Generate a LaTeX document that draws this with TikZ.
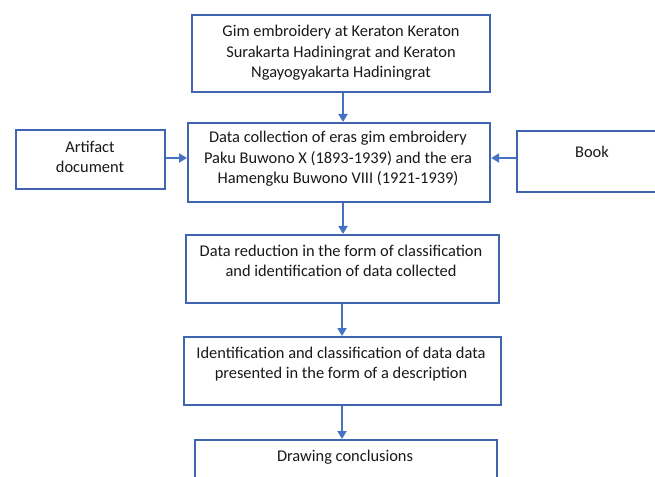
\documentclass[tikz,border=0pt]{standalone}
\usepackage{fontspec}
\setmainfont{Carlito}
\usetikzlibrary{arrows.meta}
\definecolor{boxblue}{HTML}{3F65B0}
\definecolor{arrblue}{HTML}{4472C4}
\tikzset{
  box/.style={draw=boxblue, line width=2.2bp, fill=white, inner sep=0pt, anchor=north west},
  txt/.style={align=center, font=\fontsize{16.4bp}{20.5bp}\selectfont, text=black!90, inner sep=0pt},
  arr/.style={draw=arrblue, line width=2.8bp, -{Triangle[length=8bp,width=9bp]}}
}
\begin{document}
\begin{tikzpicture}[x=1bp, y=-1bp]
\useasboundingbox (0,0) rectangle (655,477);
\clip (0,0) rectangle (655,477);
% boxes
\node[box, minimum width=298bp, minimum height=77bp] (b1) at (191,14) {};
\node[box, minimum width=302bp, minimum height=79bp] (b2) at (187,122) {};
\node[box, minimum width=149bp, minimum height=59bp] (art) at (15,129) {};
\node[box, minimum width=160bp, minimum height=61bp] (book) at (516,130) {};
\node[box, minimum width=313bp, minimum height=68bp] (b3) at (185,234) {};
\node[box, minimum width=317bp, minimum height=68bp] (b4) at (183,336) {};
\node[box, minimum width=302bp, minimum height=80bp] (b5) at (194,439) {};
% texts
\node[txt] (t1) at (341,53) {Gim embroidery at Keraton Keraton\\Surakarta Hadiningrat and Keraton\\Ngayogyakarta Hadiningrat};
\node[txt] (t2) at (338,159) {Data collection of eras gim embroidery\\Paku Buwono X (1893-1939) and the era\\Hamengku Buwono VIII (1921-1939)};
\node[txt] (ta) at (90,157) {Artifact\\document};
\node[txt] (tb) at (592,152) {Book};
\node[txt] (t3) at (341,261) {Data reduction in the form of classification\\and identification of data collected};
\node[txt] (t4) at (341,364) {Identification and classification of data data\\presented in the form of a description};
\node[txt] (t5) at (345,457) {Drawing conclusions};
% arrows
\draw[arr] (343,0 |- b1.south) -- (343,0 |- b2.north);
\draw[arr] (art.east |- 0,158) -- (b2.west |- 0,158);
\draw[arr] (book.west |- 0,158) -- (b2.east |- 0,158);
\draw[arr] (343,0 |- b2.south) -- (343,0 |- b3.north);
\draw[arr] (342,0 |- b3.south) -- (342,0 |- b4.north);
\draw[arr] (342,0 |- b4.south) -- (342,0 |- b5.north);
\end{tikzpicture}
\end{document}
